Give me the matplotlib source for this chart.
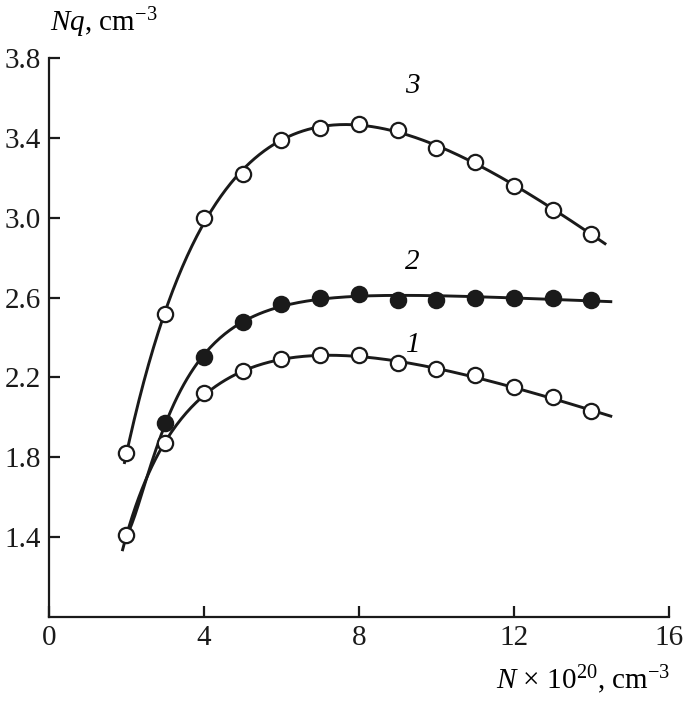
import matplotlib.pyplot as plt
import numpy as np

plt.rcParams['font.family'] = 'Liberation Serif'
plt.rcParams['mathtext.fontset'] = 'custom'
plt.rcParams['mathtext.rm'] = 'Liberation Serif'
plt.rcParams['mathtext.it'] = 'Liberation Serif:italic'

# curve 1 (open circles)
n1 = [2, 3, 4, 5, 6, 7, 8, 9, 10, 11, 12, 13, 14]
nq1 = [1.41, 1.87, 2.12, 2.23, 2.29, 2.31, 2.31, 2.27, 2.24, 2.21, 2.15, 2.10, 2.03]

# curve 2 (filled circles), starts from the shared point at N = 2
n2 = [2, 3, 4, 5, 6, 7, 8, 9, 10, 11, 12, 13, 14]
nq2 = [1.41, 1.97, 2.30, 2.48, 2.57, 2.60, 2.62, 2.59, 2.59, 2.60, 2.60, 2.60, 2.59]

# curve 3 (open circles)
n3 = [2, 3, 4, 5, 6, 7, 8, 9, 10, 11, 12, 13, 14]
nq3 = [1.82, 2.52, 3.00, 3.22, 3.39, 3.45, 3.47, 3.44, 3.35, 3.28, 3.16, 3.04, 2.92]


def basis_peak(t):
    t = np.asarray(t, dtype=float)
    return np.column_stack([np.ones_like(t), np.log(t), t, t**2, 1 / t])


def basis_flat(t):
    t = np.asarray(t, dtype=float)
    return np.column_stack([np.ones_like(t), 1 / t, 1 / t**2, 1 / t**3, 1 / t**4])


def smooth(x, y, x0, x1, basis):
    coef = np.linalg.lstsq(basis(x), np.asarray(y), rcond=None)[0]
    xs = np.linspace(x0, x1, 300)
    return xs, basis(xs) @ coef


fig = plt.figure(figsize=(6.85, 7.03), dpi=100)
ax = fig.add_axes([0.0715, 0.1223, 0.905, 0.7952])

lw = 2.1
curves = [(n1, nq1, 1.9, 14.5, basis_peak),
          (n2, nq2, 1.88, 14.5, basis_flat),
          (n3, nq3, 1.95, 14.35, basis_peak)]
for x, y, x0, x1, b in curves:
    xs, ys = smooth(x, y, x0, x1, b)
    ax.plot(xs, ys, color='#1a1a1a', lw=lw, zorder=2)

ms = 11
ax.plot(n1, nq1, 'o', ms=ms, mfc='white', mec='#1a1a1a', mew=1.6, zorder=3)
ax.plot(n2[1:], nq2[1:], 'o', ms=ms, mfc='#1a1a1a', mec='#1a1a1a', mew=1.6, zorder=3)
ax.plot(n3, nq3, 'o', ms=ms, mfc='white', mec='#1a1a1a', mew=1.6, zorder=3)

ax.text(9.37, 3.66, '3', fontsize=21, style='italic', ha='center', va='center')
ax.text(9.37, 2.78, '2', fontsize=21, style='italic', ha='center', va='center')
ax.text(9.4, 2.36, '1', fontsize=21, style='italic', ha='center', va='center')

ax.set_xlim(0, 16)
ax.set_ylim(1.0, 3.8)
ax.set_xticks([0, 4, 8, 12, 16])
ax.set_yticks([1.4, 1.8, 2.2, 2.6, 3.0, 3.4, 3.8])
ax.set_yticklabels(['1.4', '1.8', '2.2', '2.6', '3.0', '3.4', '3.8'])
ax.spines['top'].set_visible(False)
ax.spines['right'].set_visible(False)
for s in ['left', 'bottom']:
    ax.spines[s].set_linewidth(1.6)
    ax.spines[s].set_color('#1a1a1a')
ax.tick_params(direction='in', length=8, width=1.6, labelsize=21, colors='#1a1a1a', pad=6)

fig.text(0.073, 0.968, r'$\mathit{Nq}$, cm$^{-3}$', fontsize=21, ha='left', va='center')
fig.text(0.978, 0.033, r'$\mathit{N}$ × 10$^{20}$, cm$^{-3}$', fontsize=21, ha='right', va='center')

fig.savefig('out.png', dpi=100)
